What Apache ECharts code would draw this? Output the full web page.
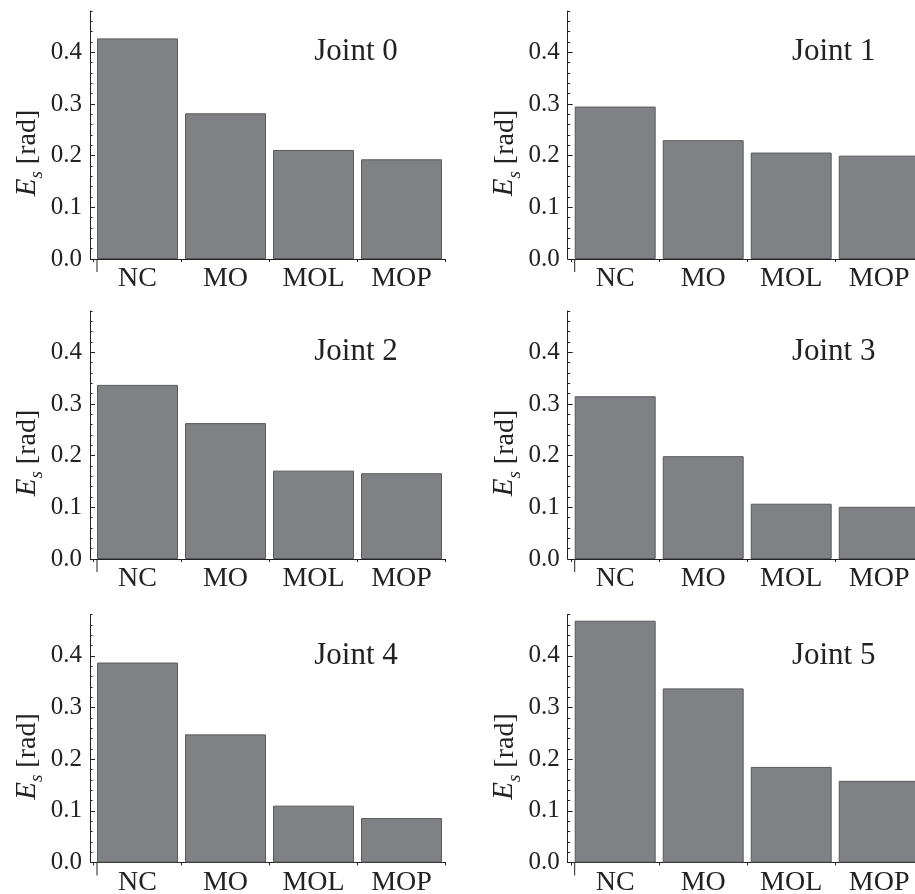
<!DOCTYPE html>
<html>
<head>
<meta charset="utf-8">
<script src="https://cdn.jsdelivr.net/npm/echarts@6/dist/echarts.min.js"></script>
<style>
html,body{margin:0;padding:0;background:#fff;}
#c{width:915px;height:894px;}
</style>
</head>
<body>
<div id="c"></div>
<script>
// ---- data ----
const categories = ['NC', 'MO', 'MOL', 'MOP'];
const joint0 = [0.427, 0.282, 0.211, 0.193];
const joint1 = [0.295, 0.230, 0.206, 0.200];
const joint2 = [0.337, 0.263, 0.171, 0.166];
const joint3 = [0.315, 0.199, 0.107, 0.101];
const joint4 = [0.387, 0.248, 0.110, 0.086];
const joint5 = [0.468, 0.337, 0.185, 0.158];
const panelTitles = ['Joint 0', 'Joint 1', 'Joint 2', 'Joint 3', 'Joint 4', 'Joint 5'];
const yMin = 0, yMax = 0.48, yMajor = 0.1, yMinor = 0.02;

// ---- layout ----
const allData = [joint0, joint1, joint2, joint3, joint4, joint5];
const colAxisX = [90, 567.7];
const rowZero = [259, 559, 862.5];
const plotH = 248;
const plotW = 352;
const axOff = 3.5;
const serif = 'Liberation Serif';
const ink = '#222222';

const grids = [], xAxes = [], yAxes = [], series = [], graphics = [];
allData.forEach((vals, i) => {
  const col = i % 2, row = Math.floor(i / 2);
  const ax = colAxisX[col], zero = rowZero[row];
  grids.push({left: ax + axOff, top: zero - plotH, width: plotW, height: plotH,
    containLabel: false, outerBoundsMode: 'none'});
  xAxes.push({
    type: 'category', gridIndex: i, data: categories,
    axisLine: {lineStyle: {color: ink, width: 1}},
    axisTick: {show: true, length: 3, lineStyle: {color: ink}},
    axisLabel: {fontFamily: serif, fontSize: 28, color: ink, margin: 6}
  });
  // main y axis: labels + major ticks
  yAxes.push({
    type: 'value', gridIndex: i, min: yMin, max: yMax, interval: yMajor, offset: axOff,
    axisLine: {show: true, lineStyle: {color: ink, width: 1}},
    axisTick: {show: true, inside: true, length: 5, lineStyle: {color: ink}},
    splitLine: {show: false},
    axisLabel: {fontFamily: serif, fontSize: 25, color: ink, margin: 8, showMaxLabel: false,
      formatter: v => (Math.abs(v / yMajor - Math.round(v / yMajor)) < 1e-6) ? v.toFixed(1) : ''}
  });
  // minor tick y axis
  yAxes.push({
    type: 'value', gridIndex: i, min: yMin, max: yMax, interval: yMinor, offset: axOff,
    position: 'left',
    axisLine: {show: false},
    axisTick: {show: true, inside: true, length: 2.5, lineStyle: {color: ink}},
    splitLine: {show: false},
    axisLabel: {show: false}
  });
  series.push({
    type: 'bar', xAxisIndex: i, yAxisIndex: 2 * i, data: vals,
    barCategoryGap: '8%',
    itemStyle: {color: '#808185', borderColor: '#5a5a5c', borderWidth: 1},
    silent: true, animation: false
  });
  graphics.push({
    type: 'text', x: ax + 266, y: zero - 207,
    style: {text: panelTitles[i], fontFamily: serif, fontSize: 31, fill: ink, align: 'center', verticalAlign: 'middle'}
  });
  graphics.push({
    type: 'line', shape: {x1: ax + 7, y1: zero, x2: ax + 7, y2: zero + 13},
    style: {stroke: ink, lineWidth: 1}
  });
  graphics.push({
    type: 'text', x: ax - 63, y: zero - 106, rotation: Math.PI / 2,
    style: {
      text: '{e|E}{s|s}{r| [rad]}', align: 'center', verticalAlign: 'middle', fill: ink,
      fontFamily: serif, fontSize: 28,
      rich: {
        e: {fontFamily: serif, fontSize: 29, fontStyle: 'italic', fill: ink, verticalAlign: 'bottom'},
        s: {fontFamily: serif, fontSize: 19, fontStyle: 'italic', fill: ink, verticalAlign: 'bottom', padding: [0, 0, -5, 0]},
        r: {fontFamily: serif, fontSize: 28, fill: ink, verticalAlign: 'bottom'}
      }
    }
  });
});

const chart = echarts.init(document.getElementById('c'), null, {renderer: 'canvas'});
chart.setOption({
  animation: false,
  backgroundColor: '#ffffff',
  grid: grids, xAxis: xAxes, yAxis: yAxes, series: series,
  graphic: graphics
});
</script>
</body>
</html>
